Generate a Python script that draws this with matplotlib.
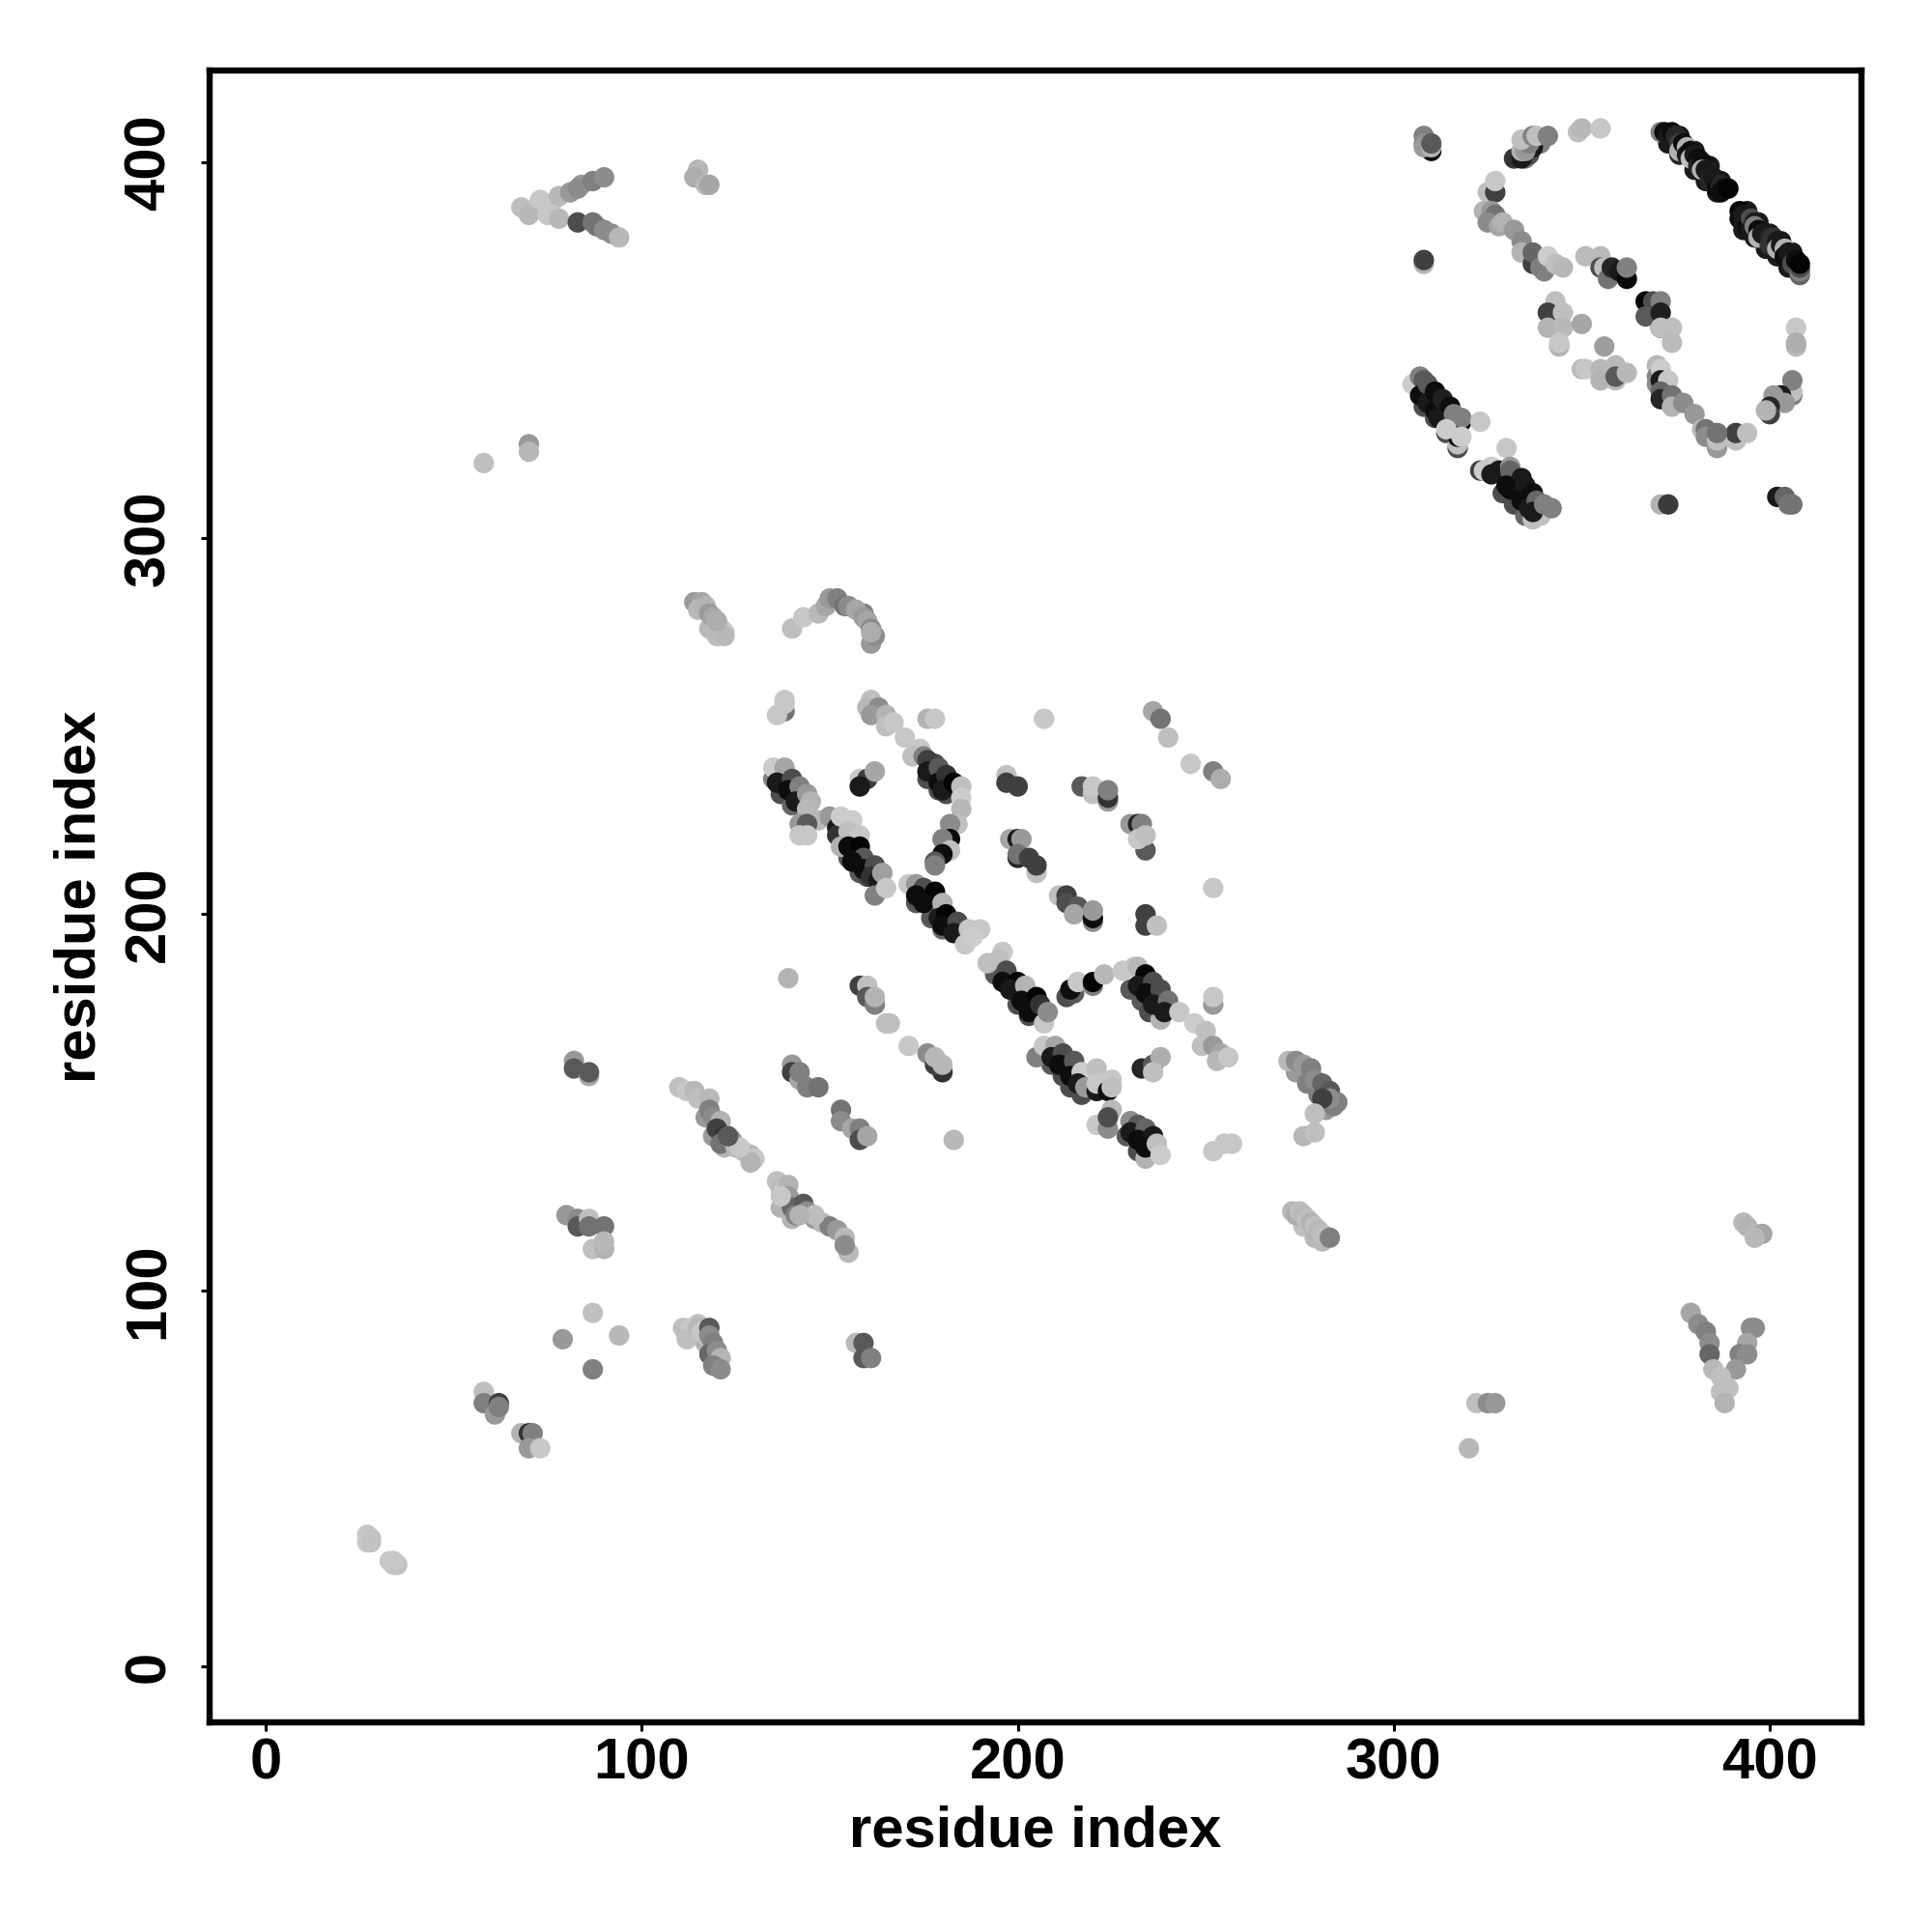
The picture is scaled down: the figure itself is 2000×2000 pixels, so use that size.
import matplotlib
matplotlib.use("Agg")
import matplotlib.pyplot as plt

# Each contact: (residue index, residue index, grey level)
under_bands = [(373,405,.1),(376,402,.15),(380,398,.1),(383,395,.1),(386,392,.1),(376,407,.1),(380,403,.1),(384,399,.1),(387,395,.1),
    (394,387,.1),(397,384,.1),(400,381,.1),(403,379,.1),(406,376,.1),(393,382,.1),(396,380,.1),(399,377,.1),(402,375,.1),(405,372,.1),(408,370,.4),
    (176,236,.3),(179,233,.3),(181,232,.3),(178,240,.3),(181,237,.15),(155,215,.35),(158,211,.35),(160,210,.3),(173,203,.35),(177,199,.35),(180,196,.4),
    (194,184,.35),(198,180,.35),(200,176,.3),(203,173,.3),(230,180,.35),(233,177,.35),(235,174,.3),(238,172,.7),(209,160,.35),(212,157,.3),(214,154,.3),(217,152,.3),
    (229,141,.35),(232,137,.3),(234,135,.7),(135,236,.5),(137,232,.3),(140,229,.4),(308,335,.3),(311,332,.3),(314,328,.3),(329,312,.3),(332,309,.3),(335,306,.4),(337,305,.75),
    (117,146,.6),(119,141,.6),(122,138,.7),(137,122,.7),(140,119,.7),(115,91,.75),(117,86,.7),(274,158,.6),(277,155,.5),(280,152,.5),(282,148,.6),(284,149,.5),(276,117,.75),(279,114,.72),
    (159,280,.5),(161,272,.6),(120,274,.75),(118,276,.72),(76,389,.78),(72,388,.78),(84,394,.6),(88,383,.45),(92,381,.55),(335,401,.5),(336,402,.3),(339,405,.5)]

far_lower_left = [(27,35,.78),(28,34,.76),(27,33,.78),(28,33,.76),(33,28,.78),(34,27,.78),(35,27,.76),(34,28,.78),
    (58,73,.75),(58,70,.5),(62,70,.25),(61,67,.6),(62,69,.5),(68,62,.7),(70,62,.2),(71,62,.5),(70,58,.6),(73,58,.78),
    (79,87,.6),(87,94,.75),(87,79,.5),(94,88,.72),
    (80,120,.6),(83,119,.55),(83,117,.35),(86,119,.75),(86,117,.45),(90,117,.45),(87,111,.75),(90,111,.7),(90,113,.72),
    (82,161,.6),(82,159,.35),(86,157,.65),(86,158,.35),
    (111,90,.75),(112,88,.72),(113,90,.78),(112,87,.75),(115,90,.72),(117,88,.75),(116,89,.78),(118,90,.35),(118,88,.55),(119,86,.5),(118,83,.4),(120,84,.55),(121,82,.7),(119,80,.5),(121,79,.55),
    (157,86,.72),(159,86,.35),(159,82,.35),(161,82,.5)]

top_left = [(68,388,.75),(70,386,.72),(73,390,.78),(75,386,.78),(78,391,.72),(81,392,.6),(83,393,.55),(87,395,.5),(90,396,.55),
    (78,385,.72),(83,384,.3),(87,384,.45),(90,382,.55),(94,380,.72),
    (115,398,.72),(114,396,.68),(117,394,.72),(118,394,.65),
    (58,320,.75),(70,325,.6),(70,323,.72)]

left_diagonals = [(110,154,.75),(112,153,.78),(114,153,.72),(115,151,.75),(118,151,.72),(118,148,.5),(119,146,.55),(121,145,.7),(120,143,.25),(122,141,.2),(121,139,.45),(124,140,.6),(125,138,.72),(127,137,.75),(129,136,.72),(130,135,.78),(129,134,.7),(126,138,.78),(123,141,.35),
    (136,129,.75),(137,127,.72),(138,127,.78),(139,128,.7),(139,125,.6),(140,122,.4),(141,120,.5),(143,123,.35),(144,121,.55),(146,119,.6),(148,118,.72),(150,117,.5),(152,116,.6),(154,114,.72),(155,110,.72),(154,112,.55),(146,120,.75),(137,125,.78),(142,120,.7)]

upper_left = [(114,283,.6),(116,283,.65),(115,281,.72),(117,282,.7),(118,280,.6),(119,279,.65),(120,277,.75),(121,276,.72),(122,275,.78),(122,274,.72),(120,278,.68),
    (140,276,.75),(143,279,.78),(147,280,.72),(149,282,.65),(150,284,.6),(152,284,.5),(154,282,.45),(155,282,.55),(157,281,.65),(159,279,.6),(160,278,.65),(161,276,.55),(162,274,.55),(161,275,.68)]

central_top = [(138,257,.78),(138,254,.45),(136,253,.78),(138,256,.78),
    (161,257,.75),(160,255,.72),(163,255,.55),(161,253,.6),(165,253,.7),(165,250,.75),(167,251,.78),(170,247,.78),(174,244,.78),(172,242,.75),(175,242,.5),(176,241,.25),(176,238,.1),(179,239,.35),(179,235,.05),(181,237,.2),(180,233,.1),(183,235,.02),(185,234,.75),(185,231,.8),(185,228,.72),
    (184,224,.75),(182,224,.55),(182,220,.02),(180,220,.5),(182,217,.75),(180,216,.05),(178,214,.35),(178,213,.5),
    (135,239,.8),(138,239,.65),(136,235,.1),(140,236,.3),(139,233,.05),(142,234,.5),(141,230,.1),(144,232,.6),(145,230,.7),(144,228,.72),(147,225,.72),(142,224,.6),(144,224,.35),(142,221,.78),(144,221,.78),
    (158,236,.8),(160,236,.25),(162,238,.65),(158,234,.1)]

central_middle = [(150,226,.6),(152,223,.1),(152,221,.2),(153,226,.8),(156,225,.8),(155,222,.75),(158,221,.78),(153,218,.7),(155,218,.05),(158,218,.02),(159,215,.35),(156,214,.05),(159,212,.05),(162,213,.3),(161,210,.2),(163,209,.1),(164,211,.62),(162,205,.5),(165,207,.78),
    (171,208,.78),(173,208,.6),(175,207,.3),(173,205,.05),(178,206,.02),(175,203,.05),(180,203,.7),(179,199,.1),(181,200,.02),(180,197,.05),(184,198,.3),(183,195,.1),(187,196,.78),(190,196,.78),(186,192,.78),(188,194,.8),
    (196,190,.78),(192,187,.75),(195,188,.75),(197,185,.3),(196,182,.05),(200,182,.02),(198,180,.1),(202,181,.7),(201,177,.05),(205,178,.02),(203,174,.05),(206,176,.2),(207,171,.78),(208,174,.55),
    (213,178,.3),(215,179,.35),(214,180,.05),(216,182,.78),(220,181,.5),(220,182,.02),(223,184,.72),(228,185,.78),(231,186,.78),(232,186,.72),
    (234,184,.02),(232,181,.1),(236,182,.3),(234,179,.05),(238,180,.3),(236,176,.1),(240,177,.45),(239,174,.1),(243,174,.78),(247,171,.8),(250,169,.75),(249,165,.75),(252,165,.6),(254,163,.65),(253,161,.72),(256,162,.78),
    (252,176,.6),(252,178,.78),(233,159,.15),(236,160,.35),(238,162,.68),(236,158,.75)]

central_lower = [(205,162,.5),(207,165,.78),(210,165,.65),(209,162,.1),(212,163,.3),(211,160,.05),(215,161,.35),(214,157,.05),(217,158,.8),(216,155,.1),(218,154,.6),(221,153,.1),(221,159,.75),(221,155,.78),(224,153,.05),(225,156,.78),(225,154,.75),
    (225,148,.72),(221,144,.78),(224,143,.55),(224,146,.3),
    (230,145,.55),(232,144,.35),(230,142,.1),(234,143,.4),(232,140,.05),(236,141,.1),(234,138,.05),(237,139,.75),(238,136,.8),
    (252,137,.78),(255,139,.78),(257,139,.78)]

central_islands = [(197,237,.75),(197,235,.25),(200,234,.25),
    (217,234,.35),(220,232,.75),(220,234,.78),(224,230,.6),(224,231,.2),(224,233,.5),
    (230,224,.6),(232,224,.15),(233,224,.5),(234,217,.35),(232,220,.78),(234,221,.75),
    (198,220,.65),(200,220,.1),(201,220,.6),(200,215,.15),(200,216,.45),(205,211,.75),(203,215,.25),(205,213,.25),
    (211,205,.75),(213,205,.25),(213,203,.3),(216,202,.35),(215,200,.65),(220,198,.55),(220,199,.05),(220,201,.6),
    (234,200,.25),(234,197,.25),(237,197,.75),(252,207,.78),
    (236,254,.65),(238,252,.45),(240,247,.75),(246,240,.78),(252,238,.5),(254,236,.68),
    (176,252,.7),(178,252,.78),(207,252,.78),(139,183,.7),
    (158,181,.25),(160,181,.75),(160,178,.35),(162,176,.5),(162,178,.7),(165,171,.75),(166,171,.75),(171,165,.78),(176,163,.55),(180,158,.2),(178,160,.25),(180,160,.72),(178,162,.72),
    (140,160,.6),(140,158,.25),(142,156,.65),(142,158,.5),(144,154,.5),(147,154,.45),(153,148,.45),(153,145,.55),(156,143,.65),(158,143,.5),(158,140,.3),(160,141,.65),(183,140,.72)]

mid_right = [(272,161,.72),(274,161,.55),(276,160,.6),(278,159,.5),(279,156,.55),(281,155,.4),(283,153,.35),(285,150,.5),(283,151,.55),(281,151,.25),
    (279,147,.75),(276,141,.72),(279,142,.75),
    (273,121,.72),(274,120,.68),(275,121,.75),(276,120,.72),(277,119,.75),(278,118,.7),(279,116,.7),(279,117,.75),(280,116,.72),(281,113,.72),(281,115,.75),(283,114,.5),
    (379,94,.65),(381,91,.55),(383,89,.5),(384,86,.55),(384,83,.4),(395,90,.55),(396,90,.55),(394,86,.65),(392,83,.5),(394,83,.55),(391,79,.6),(385,79,.72),(387,77,.75),(389,74,.75),(387,73,.75),(388,70,.7),
    (393,118,.72),(394,117,.7),(396,115,.72),(398,115,.65),(396,114,.72),(322,70,.75),(325,70,.55),(327,70,.6),(320,58,.72)]

top_right_edges = [(308,407,.5),(308,405,.55),(310,403,.05),(308,404,.6),(310,404,.7),(310,405,.35),(308,373,.7),(308,374,.25),
    (332,401,.2),(334,401,.1),(334,403,.7),(337,404,.1),(335,403,.6),(336,405,.5),(334,406,.75),(337,407,.5),(338,407,.75),(341,407,.5),
    (349,408,.75),(350,409,.72),(355,409,.78),
    (325,392,.75),(327,392,.25),(327,395,.78),
    (324,387,.7),(326,387,.6),(327,386,.45),(325,384,.55),(328,383,.65),(329,384,.7),(332,382,.6),(334,379,.55),(334,376,.7),(337,373,.25),(337,376,.4),(340,371,.5),(339,372,.5),(341,375,.8),(343,373,.75),(345,372,.72),
    (351,375,.73),(355,375,.73),(355,372,.3),(356,372,.75),(357,369,.45),(358,372,.15),(360,371,.1),(362,369,.03),(362,372,.5)]

top_right_dark_upper = [(371,408,.5),(372,408,.05),(373,407,.1),(374,408,.05),(375,406,.1),(375,407,.15),(376,405,.25),(376,403,.7),(377,405,.05),(378,404,.7),(378,402,.1),(379,403,.05),(379,401,.75),(380,402,.1),(381,401,.05),(381,399,.15),(382,400,.05),(382,398,.7),(383,398,.1),(384,397,.1),(384,395,.15),(385,396,.1),(386,395,.1),(386,393,.05),(387,394,.15),(388,393,.05),(387,392,.05),(389,393,.02),
    (392,387,.02),(392,385,.05),(393,386,.1),(393,384,.1),(394,386,.1),(394,383,.05),(395,385,.3),(395,382,.1),(396,384,.1),(396,383,.5),(397,382,.05),(397,380,.7),(398,381,.1),(399,381,.1),(400,380,.15),(400,378,.2),(401,380,.2),(402,379,.1),(402,377,.7),(403,378,.1),(404,377,.7),(404,375,.05),(405,376,.1),(406,375,.1),(406,373,.3),(408,371,.5),(408,372,.3),(407,374,.05),(408,373,.02)]

top_right_inner = [(367,363,.02),(369,363,.3),(371,363,.5),(367,359,.35),(371,360,.12),(371,356,.15),(371,356,.75),(374,356,.75),(374,352,.73),
    (343,363,.75),(341,360,.72),(341,360,.25),(345,360,.75),(341,356,.7),(345,356,.72),(344,351,.7),(344,352,.78),(350,357,.65),(356,351,.62),
    (350,345,.73),(351,345,.78),(355,345,.72),(355,342,.7),(359,342,.72),(359,346,.72),(359,343,.35),(362,344,.72),
    (407,356,.78),(407,351,.72),(407,352,.68),
    (406,338,.5),(406,339,.75),(406,342,.5),(403,338,.1),(401,338,.6),(404,336,.6),(400,335,.15),(400,333,.25),(399,334,.7),
    (391,326,.75),(391,328,.25),(394,328,.75),
    (370,346,.72),(370,343,.5),(371,345,.8),(370,341,.55),(371,342,.1),(373,342,.78),(371,339,.4),(371,337,.15),(374,338,.45),(374,335,.7),(377,336,.55),(380,333,.6),(382,329,.72),(383,329,.45),(383,327,.55),(386,324,.6),(386,326,.75),(386,328,.45)]

top_right_lower = [(305,341,.8),(307,343,.5),(308,342,.35),(307,338,.05),(309,341,.35),(309,336,.1),(311,339,.05),(311,334,.05),(313,337,.12),(312,332,.1),(315,335,.05),(314,330,.1),(316,333,.5),(318,331,.05),(318,332,.5),(323,331,.78),(317,324,.3),(317,325,.75),(317,327,.05),(318,327,.8),(314,329,.8),
    (330,324,.78),(323,318,.25),(324,318,.8),(326,319,.8),(326,317,.1),(328,318,.1),(331,319,.6),(331,318,.4),(330,314,.05),(334,316,.1),(331,313,.05),(335,314,.1),(334,310,.05),(337,312,.05),(336,308,.1),(338,310,.4),(339,306,.75),(337,307,.1),(340,309,.5),(342,308,.5),
    (371,309,.7),(373,309,.23),(402,311,.1),(404,311,.4),(405,309,.45),(406,309,.45)]

groups = [under_bands, far_lower_left, top_left, left_diagonals, upper_left, central_top, central_middle,
          central_lower, central_islands, mid_right, top_right_edges, top_right_dark_upper,
          top_right_inner, top_right_lower]
axis_label = "residue index"
ticks = [0, 100, 200, 300, 400]

plt.rcParams["font.family"] = ["Liberation Sans", "DejaVu Sans"]
plt.rcParams["font.weight"] = "bold"

fig = plt.figure(figsize=(10, 10), dpi=200)
ax = fig.add_axes([0.1083, 0.1083, 0.8554, 0.8554])

for group in groups:
    xs = [p[0] for p in group]
    ys = [p[1] for p in group]
    cs = [str(p[2]) for p in group]
    ax.scatter(xs, ys, c=cs, s=58, linewidths=0, zorder=3)

ax.set_xlim(-15, 424.5)
ax.set_ylim(-15, 424.5)
ax.set_xticks(ticks)
ax.set_yticks(ticks)
ax.tick_params(axis="both", length=3.4, width=1.1, labelsize=21.5, color="black")
ax.tick_params(axis="x", pad=2)
ax.tick_params(axis="y", pad=9)
for label in ax.get_yticklabels():
    label.set_rotation(90)
    label.set_va("center")
for spine in ax.spines.values():
    spine.set_linewidth(2.3)
    spine.set_capstyle("projecting")
ax.set_xlabel(axis_label, fontsize=21.5, fontweight="bold", labelpad=5.5)
ax.set_ylabel(axis_label, fontsize=21.5, fontweight="bold", labelpad=6)

fig.savefig("out.png", dpi=200)
